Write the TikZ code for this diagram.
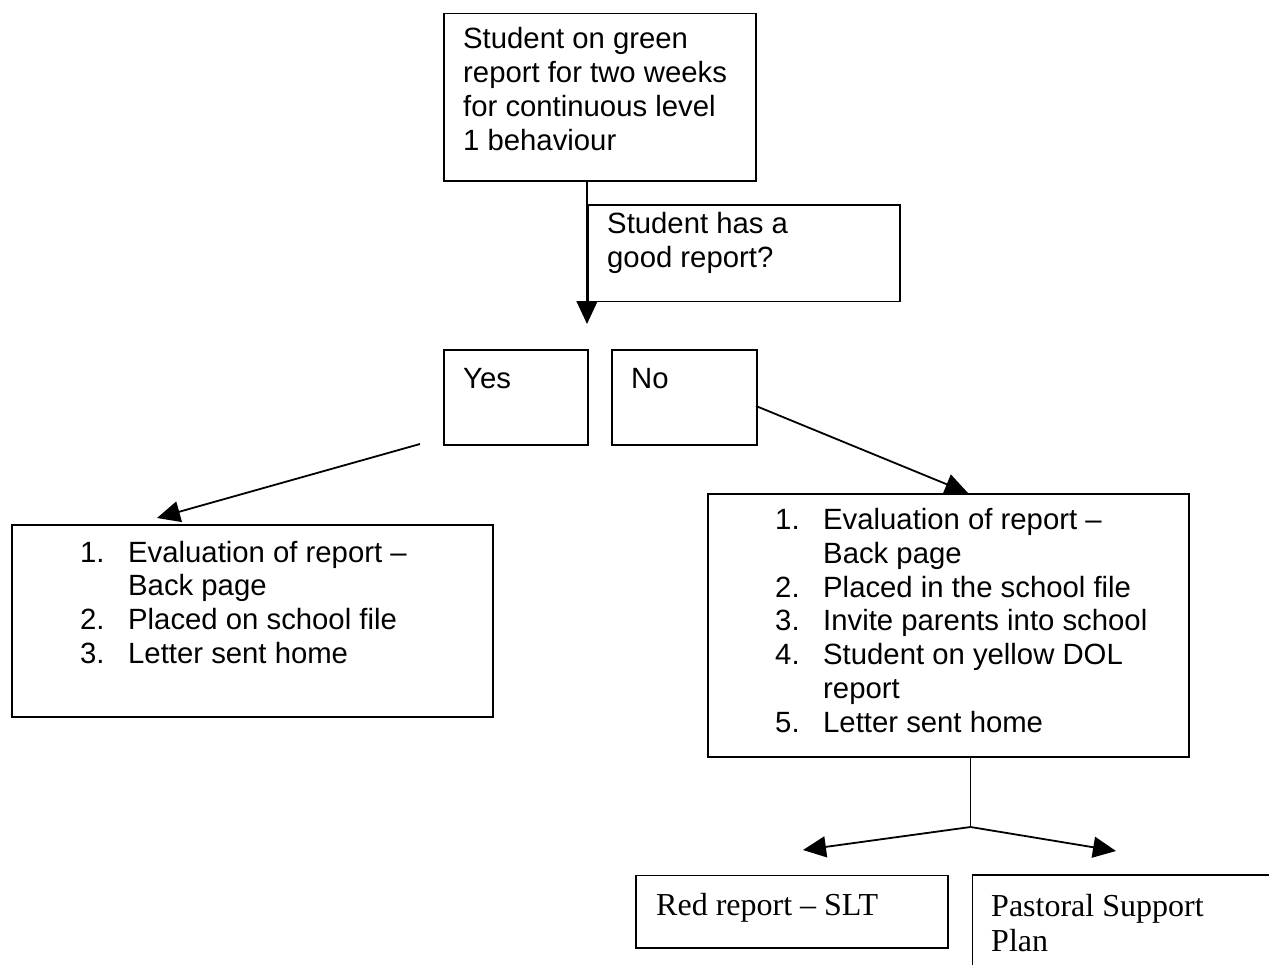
\documentclass[tikz,border=0pt]{standalone}
\usepackage{fontspec}
\setmainfont{Liberation Sans}
\newfontfamily\serifff[Ligatures=TeX]{Liberation Serif}
\usetikzlibrary{arrows.meta}
\tikzset{
  box/.style={draw, line width=1.9pt, rectangle, inner sep=0pt, anchor=north west},
  txt/.style={inner sep=0pt, anchor=base west, font=\fontsize{29.3}{34}\selectfont},
  lsttxt/.style={inner sep=0pt, anchor=base west, font=\fontsize{29.3}{33.8}\selectfont},
  sertxt/.style={inner sep=0pt, anchor=base west, font=\serifff\fontsize{32}{35.5}\selectfont},
  conn/.style={line width=1.8pt},
  arr/.style={line width=1.8pt, -{Triangle[width=21pt,length=23pt]}},
}
\begin{document}
\begin{tikzpicture}[x=1pt,y=-1pt]
\useasboundingbox[fill=white] (0,0) rectangle (1269,964);

% top box
\node[box, minimum width=312pt, minimum height=167.5pt] (top) at (443,12.5) {};
\node[txt] (toptxt) at (463,48.5) {\begin{tabular}[t]{@{}l@{}}Student on green\\report for two weeks\\for continuous level\\1 behaviour\end{tabular}};

% question box
\node[box, minimum width=312pt, minimum height=96.5pt] (q) at (587,204) {};
\node[txt] (qtxt) at (607,233) {\begin{tabular}[t]{@{}l@{}}Student has a\\good report?\end{tabular}};

% yes / no
\node[box, minimum width=144pt, minimum height=95pt] (yes) at (443,349) {};
\node[txt] (yestxt) at (463,388) {Yes};
\node[box, minimum width=145pt, minimum height=95pt] (no) at (611,349) {};
\node[txt] (notxt) at (631,388) {No};

% left list box
\node[box, minimum width=481pt, minimum height=192pt] (left) at (11,524) {};
\node[lsttxt] (lefttxt) at (80,562) {\begin{tabular}[t]{@{}p{48pt}@{}l@{}}1.&Evaluation of report --\\&Back page\\2.&Placed on school file\\3.&Letter sent home\end{tabular}};

% right list box
\node[box, minimum width=481pt, minimum height=263pt] (right) at (707,493) {};
\node[lsttxt] (righttxt) at (775,529.5) {\begin{tabular}[t]{@{}p{48pt}@{}l@{}}1.&Evaluation of report --\\&Back page\\2.&Placed in the school file\\3.&Invite parents into school\\4.&Student on yellow DOL\\&report\\5.&Letter sent home\end{tabular}};

% bottom boxes
\node[box, minimum width=312pt, minimum height=72.5pt] (red) at (635,874.5) {};
\node[sertxt] (redtxt) at (656,915) {Red report -- SLT};
\node[box, minimum width=340pt, minimum height=120pt] (past) at (971.5,874) {};
\node[sertxt] (pasttxt) at (991,916) {\begin{tabular}[t]{@{}l@{}}Pastoral Support\\Plan\end{tabular}};

% connectors
\coordinate (tipq) at (587,324);
\draw[arr] (top.south -| tipq) -- (tipq);

\coordinate (lstart) at (420,444);
\coordinate (ltip) at (157,518);
\draw[arr] (lstart) -- (ltip);

\coordinate (rstart) at (756,406);
\coordinate (rtip) at (968,493);
\draw[arr] (rstart) -- (rtip);

\coordinate (rb) at (970.5,756);
\coordinate (junc) at (970.5,827);
\coordinate (btipl) at (803,850);
\coordinate (btipr) at (1116,851);
\draw[conn] (right.south -| rb) -- (junc);
\draw[arr] (junc) -- (btipl);
\draw[arr] (junc) -- (btipr);
\end{tikzpicture}
\end{document}
